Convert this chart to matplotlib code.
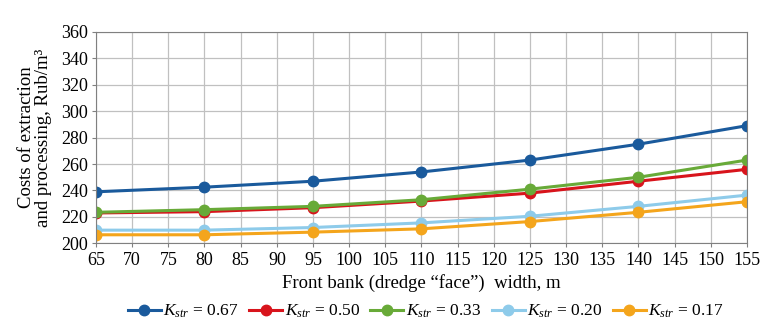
import matplotlib
matplotlib.use("Agg")
import matplotlib.pyplot as plt

# front bank width, m
widths = [65, 80, 95, 110, 125, 140, 155]

# costs per K_str value
k067 = [239, 242.5, 247, 254, 263, 275, 289]
k050 = [223, 224, 227, 232, 238, 247, 256]
k033 = [223.5, 225.5, 228, 233, 241, 250, 263]
k020 = [210, 210, 212, 215.5, 220.5, 228, 236.5]
k017 = [206.5, 206.5, 208.5, 211, 216.5, 223.5, 231.5]

labels = ["0.67", "0.50", "0.33", "0.20", "0.17"]
colors = ["#1a5a9c", "#d8141c", "#68aa38", "#8ecbea", "#f4a51c"]

plt.rcParams['font.family'] = ['Liberation Serif', 'DejaVu Serif']
plt.rcParams['mathtext.fontset'] = 'custom'
plt.rcParams['mathtext.it'] = 'Liberation Serif:italic'
plt.rcParams['mathtext.rm'] = 'Liberation Serif'

fig = plt.figure(figsize=(7.7, 3.28), dpi=100)
ax = fig.add_axes([0.1247, 0.258, 0.8453, 0.645])

series = [k067, k050, k033, k020, k017]
for vals, lab, col in zip(series, labels, colors):
    ax.plot(widths, vals, '-o', color=col, lw=2.2, ms=7.5,
            label=r"$K_{str}$ = " + lab)

ax.set_xlim(65, 155)
ax.set_ylim(200, 360)
ax.set_xticks(range(65, 156, 5))
ax.set_yticks(range(200, 361, 20))
ax.grid(True, color="#c0c0c0", lw=0.9)
ax.set_axisbelow(True)
for s in ax.spines.values():
    s.set_color("#808080")
ax.tick_params(length=3, color="#808080", labelsize=13, pad=3)

ax.set_xlabel("Front bank (dredge \u201cface\u201d)  width, m", fontsize=13.5, labelpad=4)
ax.set_ylabel("Costs of extraction\nand processing, Rub/m\u00b3", fontsize=13.5,
              linespacing=1.0, labelpad=6)

leg = fig.legend(loc="center", bbox_to_anchor=(0.553, 0.05), ncol=5,
                 frameon=False, handlelength=1.9, handletextpad=0.15,
                 columnspacing=0.6, prop={'size': 12.5})

fig.savefig("out.png", dpi=100)
